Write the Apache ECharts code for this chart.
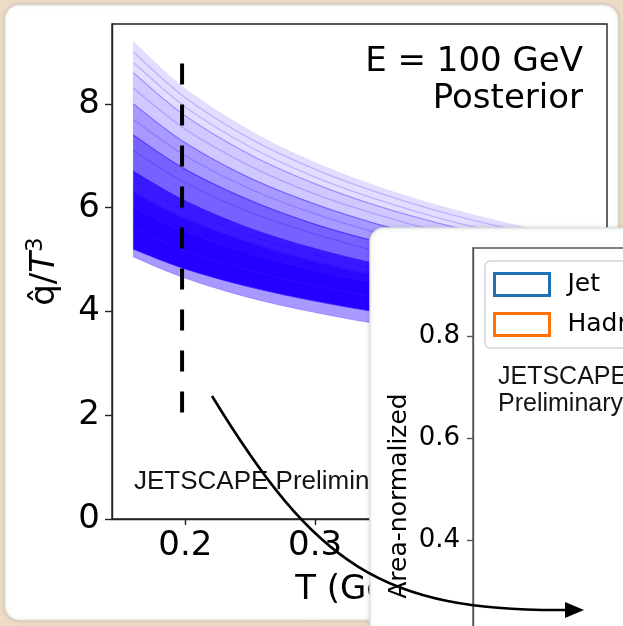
<!DOCTYPE html>
<html>
<head>
<meta charset="utf-8">
<script src="https://cdn.jsdelivr.net/npm/echarts/dist/echarts.min.js"></script>
<style>
html,body{margin:0;padding:0;background:#ecdcc5;}
#c{width:623px;height:626px;}
</style>
</head>
<body>
<div id="c"></div>
<script>
// ---------- data ----------
// temperature grid of the posterior curves (GeV)
const T = [0.16, 0.20, 0.25, 0.30, 0.35, 0.40, 0.45, 0.505];
// envelope curves of the posterior band of qhat/T^3, from top to bottom
const qTop   = [9.20, 8.29, 7.48, 6.87, 6.39, 6.01, 5.69, 5.39];
const q2     = [8.60, 7.77, 7.02, 6.46, 6.02, 5.67, 5.37, 5.10];
const q3     = [8.00, 7.25, 6.57, 6.07, 5.67, 5.35, 5.08, 4.82];
const q4     = [7.40, 6.74, 6.14, 5.68, 5.33, 5.04, 4.79, 4.57];
const q5     = [6.70, 6.13, 5.60, 5.21, 4.90, 4.64, 4.43, 4.23];
const q6     = [6.30, 5.79, 5.32, 4.96, 4.68, 4.45, 4.25, 4.07];
const q7     = [6.00, 5.54, 5.11, 4.79, 4.53, 4.31, 4.14, 3.97];
const q8     = [5.60, 5.18, 4.79, 4.49, 4.26, 4.06, 3.90, 3.75];
const q9     = [5.20, 4.82, 4.47, 4.20, 3.98, 3.81, 3.66, 3.52];
const qBot   = [5.05, 4.64, 4.26, 3.98, 3.75, 3.57, 3.41, 3.26];
// individual posterior samples visible as streaks
const s1 = [9.00, 8.12, 7.33, 6.74, 6.28, 5.90, 5.59, 5.30];
const s2 = [8.80, 7.94, 7.17, 6.59, 6.14, 5.77, 5.47, 5.19];
const s3 = [8.30, 7.51, 6.80, 6.26, 5.85, 5.51, 5.23, 4.96];
const s4 = [7.70, 7.00, 6.36, 5.88, 5.50, 5.19, 4.94, 4.70];
const s5 = [7.10, 6.48, 5.91, 5.49, 5.15, 4.88, 4.65, 4.43];
const s6 = [6.50, 5.96, 5.46, 5.09, 4.79, 4.55, 4.34, 4.15];
// vertical dashed marker (T, qhat/T^3 start/end)
const markerT = 0.1975;
const markerRange = [8.78, 2.05];
// tick labels
const xTicks1 = [0.2, 0.3, 0.4, 0.5];
const yTicks1 = [0, 2, 4, 6, 8];
const yTicks2 = [0.4, 0.6, 0.8];
// second panel legend
const legendNames = ['Jet', 'Hadron'];
const legendColors = ['#1f70b4', '#ff700a'];

// ---------- build ----------
const chart = echarts.init(document.getElementById('c'), null, {renderer: 'canvas'});
const BLUE = [35, 0, 255];
const rgba = a => `rgba(${BLUE[0]},${BLUE[1]},${BLUE[2]},${a})`;
const bandsFromBottom = [qBot, q9, q8, q7, q6, q5, q4, q3, q2, qTop];
const bandAlpha = [0.4, 1, 1, 0.97, 0.9, 0.62, 0.4, 0.21, 0.13];
const streaks = [s1, s2, s3, s4, s5, s6, q2, q3, q4];

// smooth (Catmull-Rom) path segments through pixel points
function curveSeg(pts, start) {
  let d = (start ? 'M' : 'L') + pts[0][0] + ' ' + pts[0][1];
  for (let i = 0; i < pts.length - 1; i++) {
    const p0 = pts[i - 1] || pts[i], p1 = pts[i], p2 = pts[i + 1], p3 = pts[i + 2] || pts[i + 1];
    const c1 = [p1[0] + (p2[0] - p0[0]) / 6, p1[1] + (p2[1] - p0[1]) / 6];
    const c2 = [p2[0] - (p3[0] - p1[0]) / 6, p2[1] - (p3[1] - p1[1]) / 6];
    d += 'C' + c1[0] + ' ' + c1[1] + ' ' + c2[0] + ' ' + c2[1] + ' ' + p2[0] + ' ' + p2[1];
  }
  return d;
}

const series = [];
// posterior band layers
series.push({
  type: 'custom', xAxisIndex: 0, yAxisIndex: 0, silent: true, z: 2,
  data: bandAlpha.map((a, k) => [T[0], qBot[0], k]),
  encode: {x: 0, y: 1},
  renderItem: (params, api) => {
    const k = api.value(2);
    const lo = bandsFromBottom[k], up = bandsFromBottom[k + 1];
    const upPts = T.map((t, i) => api.coord([t, up[i]]));
    const loPts = T.map((t, i) => api.coord([t, lo[i]])).reverse();
    const d = curveSeg(upPts, true) + curveSeg(loPts, false) + 'Z';
    return {type: 'path', shape: {pathData: d},
      style: {fill: rgba(bandAlpha[k]), stroke: rgba(bandAlpha[k]), lineWidth: 0.6}};
  }
});
// streak lines of individual samples
series.push({
  type: 'custom', xAxisIndex: 0, yAxisIndex: 0, silent: true, z: 3,
  data: streaks.map((s, k) => [T[0], s[0], k]),
  encode: {x: 0, y: 1},
  renderItem: (params, api) => {
    const s = streaks[api.value(2)];
    const pts = T.map((t, i) => api.coord([t, s[i]]));
    return {type: 'path', shape: {pathData: curveSeg(pts, true)},
      style: {fill: null, stroke: rgba(0.2), lineWidth: 1.3}};
  }
});
series.push({
  type: 'line', xAxisIndex: 0, yAxisIndex: 0, symbol: 'none', silent: true, z: 5,
  lineStyle: {color: '#000', width: 4, type: [21, 20]},
  data: [[markerT, markerRange[0]], [markerT, markerRange[1]]]
});
legendNames.forEach((n, i) => {
  series.push({name: n, type: 'bar', xAxisIndex: 1, yAxisIndex: 1, data: [],
    itemStyle: {color: 'rgba(0,0,0,0)', borderColor: legendColors[i], borderWidth: 3}});
});

const FONT = 'DejaVu Sans';
const option = {
  backgroundColor: '#ecdcc5',
  animation: false,
  grid: [
    {left: 112, top: 24, width: 495, height: 495, show: true, borderColor: '#222', borderWidth: 1.4,
     backgroundColor: 'rgba(0,0,0,0)', outerBoundsMode: 'none', containLabel: false, z: 1},
    {left: 473, top: 248, width: 400, height: 496, show: true, borderColor: '#555', borderWidth: 1.4,
     backgroundColor: 'rgba(0,0,0,0)', outerBoundsMode: 'none', containLabel: false, z: 55}
  ],
  xAxis: [
    {type: 'value', gridIndex: 0, min: 0.1435, max: 0.525, z: 1,
     name: 'T (GeV)', nameLocation: 'middle', nameGap: 54, nameMoveOverlap: false,
     nameTextStyle: {fontFamily: FONT, fontSize: 34, color: '#000'},
     axisLine: {show: true, lineStyle: {color: '#222', width: 1.4}},
     axisTick: {show: true, length: 6, customValues: xTicks1, lineStyle: {color: '#222', width: 1.4}},
     axisLabel: {customValues: xTicks1, fontFamily: FONT, fontSize: 34, color: '#000', margin: 10},
     splitLine: {show: false}},
    {type: 'value', gridIndex: 1, min: 0, max: 1, z: 60,
     axisLine: {show: true, lineStyle: {color: '#555'}}, axisLabel: {show: false}, axisTick: {show: false},
     splitLine: {show: false}}
  ],
  yAxis: [
    {type: 'value', gridIndex: 0, min: 0, max: 9.54, z: 1,
     name: '{a|q̂/}{i|T}{s|3}', nameLocation: 'middle', nameGap: 47, nameRotate: 90, nameMoveOverlap: false,
     nameTextStyle: {fontFamily: FONT, fontSize: 34, color: '#000',
       rich: {a: {fontFamily: FONT, fontSize: 34, color: '#000', lineHeight: 40},
              i: {fontFamily: FONT, fontSize: 34, fontStyle: 'italic', color: '#000', lineHeight: 40},
              s: {fontFamily: FONT, fontSize: 23, color: '#000', verticalAlign: 'top', lineHeight: 24}}},
     axisLine: {show: true, lineStyle: {color: '#222', width: 1.4}},
     axisTick: {show: true, length: 7, customValues: yTicks1, lineStyle: {color: '#222', width: 1.4}},
     axisLabel: {customValues: yTicks1, fontFamily: FONT, fontSize: 34, color: '#000', margin: 12},
     splitLine: {show: false}},
    {type: 'value', gridIndex: 1, min: 0, max: 0.9725, z: 60,
     name: 'Area-normalized', nameLocation: 'middle', nameGap: 61, nameRotate: 90, nameMoveOverlap: false,
     nameTextStyle: {fontFamily: FONT, fontSize: 25, color: '#000'},
     axisLine: {show: true, lineStyle: {color: '#555', width: 1.4}},
     axisTick: {show: true, length: 6, customValues: yTicks2, lineStyle: {color: '#555', width: 1.4}},
     axisLabel: {customValues: yTicks2, fontFamily: FONT, fontSize: 26, color: '#000', margin: 13,
       formatter: v => v.toFixed(1)},
     splitLine: {show: false}}
  ],
  legend: {
    left: 485, top: 261, orient: 'vertical', z: 60,
    itemWidth: 55, itemHeight: 22, itemGap: 15,
    padding: [11, 60, 11, 8],
    backgroundColor: '#fff', borderColor: '#d4d4d4', borderWidth: 1.5, borderRadius: 5,
    textStyle: {fontFamily: FONT, fontSize: 25, color: '#000', padding: [0, 0, 0, 13]},
    selectedMode: false,
    data: legendNames.map((n, i) => ({name: n, icon: 'rect',
      itemStyle: {color: 'rgba(0,0,0,0)', borderColor: legendColors[i], borderWidth: 3}}))
  },
  series: series,
  graphic: {elements: [
    {type: 'rect', z: -5, shape: {x: 5, y: 5, width: 613, height: 615, r: 14},
     style: {fill: '#fff', stroke: '#e0e0e0', lineWidth: 1, shadowBlur: 4, shadowColor: 'rgba(0,0,0,0.15)'}},
    {type: 'text', z: 3, style: {text: 'E = 100 GeV', x: 583, y: 62.5, font: '34px "DejaVu Sans"',
      fill: '#000', textAlign: 'right', align: 'right', textVerticalAlign: 'middle', verticalAlign: 'middle'}},
    {type: 'text', z: 3, style: {text: 'Posterior', x: 583, y: 99, font: '34px "DejaVu Sans"',
      fill: '#000', textAlign: 'right', align: 'right', textVerticalAlign: 'middle', verticalAlign: 'middle'}},
    {type: 'text', z: 3, style: {text: 'JETSCAPE Preliminary', x: 134, y: 482, font: '26px "Liberation Sans"',
      fill: '#141414', textAlign: 'left', align: 'left', textVerticalAlign: 'middle', verticalAlign: 'middle'}},
    {type: 'rect', z: 50, shape: {x: 370, y: 228, width: 300, height: 450, r: 14},
     style: {fill: '#fff', stroke: '#dce4df', lineWidth: 1.5, shadowBlur: 5, shadowColor: 'rgba(0,0,0,0.12)'}},
    {type: 'text', z: 60, style: {text: 'JETSCAPE', x: 498, y: 377.5, font: '25px "Liberation Sans"',
      fill: '#141414', textAlign: 'left', align: 'left', textVerticalAlign: 'middle', verticalAlign: 'middle'}},
    {type: 'text', z: 60, style: {text: 'Preliminary', x: 498, y: 404.5, font: '25px "Liberation Sans"',
      fill: '#141414', textAlign: 'left', align: 'left', textVerticalAlign: 'middle', verticalAlign: 'middle'}},
    {type: 'bezierCurve', z: 100, silent: true,
     shape: {x1: 212, y1: 396, cpx1: 314.5, cpy1: 563.5, cpx2: 380, cpy2: 612, x2: 568, y2: 610},
     style: {stroke: '#000', lineWidth: 2.6, fill: null}},
    {type: 'polygon', z: 100, silent: true,
     shape: {points: [[584, 610], [565, 602], [565, 618]]},
     style: {fill: '#000'}}
  ]}
};
chart.setOption(option);
</script>
</body>
</html>
